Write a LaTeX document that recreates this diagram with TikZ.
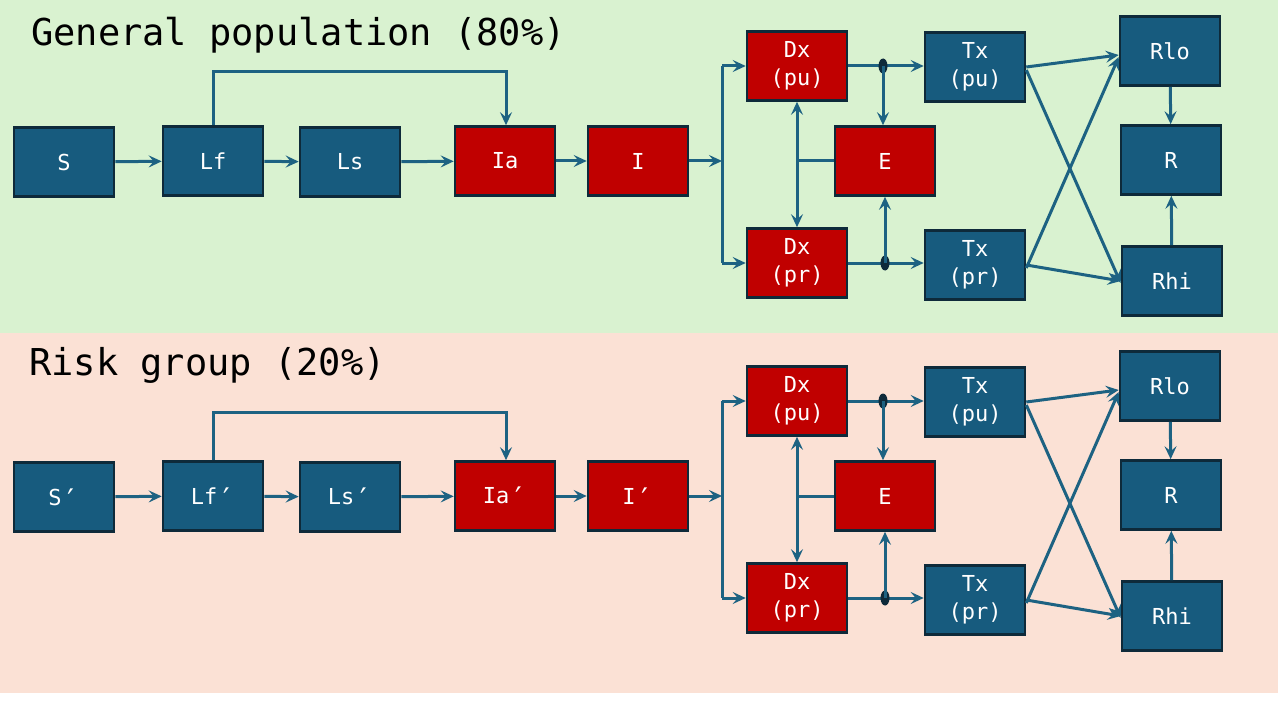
\documentclass[tikz,border=0pt]{standalone}
\usepackage{fontspec}
\setmonofont{DejaVu Sans Mono}
\usetikzlibrary{arrows.meta,shapes.geometric}
\definecolor{bgG}{HTML}{D9F2D0}
\definecolor{bgP}{HTML}{FBE1D5}
\definecolor{boxblue}{HTML}{175B7E}
\definecolor{boxred}{HTML}{C00000}
\definecolor{boxline}{HTML}{0E2A3A}
\definecolor{linec}{HTML}{1D6282}
\newcommand\myprime{\smash{\raisebox{-5pt}{\scalebox{1.35}{′}}}}
\newcommand\popgrp[5]{%
  % #1 suffix, #2 y offset, #3 prime, #4 loop y, #5 unused
  \node[bluebox] (S#1)    at (64,162+#2)   {S#3};
  \node[bluebox] (Lf#1)   at (213,161+#2)  {Lf#3};
  \node[bluebox] (Ls#1)   at (350,162+#2)  {Ls#3};
  \node[redbox]  (Ia#1)   at (505,161+#2)  {Ia#3};
  \node[redbox]  (I#1)    at (638,161+#2)  {I#3};
  \node[redbox]  (Dxpu#1) at (797,66+#2)   {Dx\\(pu)};
  \node[redbox]  (E#1)    at (885,161+#2)  {E};
  \node[redbox]  (Dxpr#1) at (797,263+#2)  {Dx\\(pr)};
  \node[bluebox] (Txpu#1) at (975,67+#2)   {Tx\\(pu)};
  \node[bluebox] (Txpr#1) at (975,265+#2)  {Tx\\(pr)};
  \node[bluebox] (Rlo#1)  at (1170,51+#2)  {Rlo};
  \node[bluebox] (R#1)    at (1171,160+#2) {R};
  \node[bluebox] (Rhi#1)  at (1172,281+#2) {Rhi};
  \coordinate (lpA#1) at (213,#4);
  \coordinate (lpB#1) at (506,#4);
  \coordinate (jn#1) at (722,161+#2);
  \coordinate (jt#1) at (722,66+#2);
  \coordinate (jb#1) at (722,263+#2);
  \draw[arr] (S#1) -- (Lf#1);
  \draw[arr] (Lf#1) -- (Ls#1);
  \draw[arr] (Ls#1) -- (Ia#1);
  \draw[arr] (Ia#1) -- (I#1);
  \draw[arr] (Lf#1.north) -- (lpA#1) -- (lpB#1) -- (lpB#1 |- Ia#1.north);
  \draw[arr] (I#1) -- (jn#1);
  \draw[conn] (jt#1) -- (jb#1);
  \draw[arr] (jt#1) -- (Dxpu#1.west);
  \draw[arr] (jb#1) -- (Dxpr#1.west);
  \draw[arr] (Dxpu#1.east) -- (Txpu#1.west |- Dxpu#1.east);
  \draw[arr] (Dxpr#1.east) -- (Txpr#1.west |- Dxpr#1.east);
  \node[dotn] (dt#1) at ([xshift=-2pt]E#1.north |- Dxpu#1.east) {};
  \node[dotn] (db#1) at (E#1.south |- Dxpr#1.east) {};
  \draw[arr] (dt#1.center) -- (dt#1.center |- E#1.north);
  \draw[arr] (db#1.center) -- (E#1.south);
  \draw[conn] (E#1.west) -- (Dxpu#1.south |- E#1.west);
  \draw[arr] (Dxpu#1.south |- E#1.west) -- (Dxpu#1.south);
  \draw[arr] (Dxpu#1.south |- E#1.west) -- (Dxpr#1.north);
  \draw[arr] (Txpu#1.east) -- ([yshift=-4pt]Rlo#1.west);
  \draw[arr] ([yshift=-3pt]Txpu#1.east) -- ([yshift=-2pt]Rhi#1.west);
  \draw[arr] ([yshift=-3pt]Txpr#1.east) -- ([yshift=-6pt]Rlo#1.west);
  \draw[arr] (Txpr#1.east) -- (Rhi#1.west);
  \draw[arr] (Rlo#1) -- (R#1);
  \draw[arr] (Rhi#1) -- (R#1);
}
\begin{document}
\begin{tikzpicture}[x=1pt,y=-1pt,
  box/.style={draw=boxline, line width=2.6pt, minimum width=100pt, minimum height=69pt,
    inner sep=0pt, align=center, text=white,
    font=\ttfamily\fontsize{22}{28}\selectfont},
  bluebox/.style={box, fill=boxblue},
  redbox/.style={box, fill=boxred},
  conn/.style={draw=linec, line width=3pt},
  arr/.style={conn, -{Stealth[length=13pt,width=12pt,inset=5pt]}},
  dotn/.style={ellipse, fill=boxline, draw=none, minimum width=9pt, minimum height=15pt, inner sep=0pt},
  title/.style={anchor=base west, inner sep=0pt, text=black,
    font=\ttfamily\fontsize{37}{40}\selectfont}]
  \useasboundingbox (0,0) rectangle (1280,706);
  \fill[white] (0,0) rectangle (1280,706);
  \fill[bgG] (0,0) rectangle (1278,333);
  \fill[bgP] (0,333) rectangle (1278,693);
  \node[title] (t1) at (31,46) {General population (80\%)};
  \node[title] (t2) at (29,375) {Risk group (20\%)};
  \popgrp{a}{0}{}{72}{}
  \popgrp{b}{335}{\myprime}{412}{}
\end{tikzpicture}
\end{document}
